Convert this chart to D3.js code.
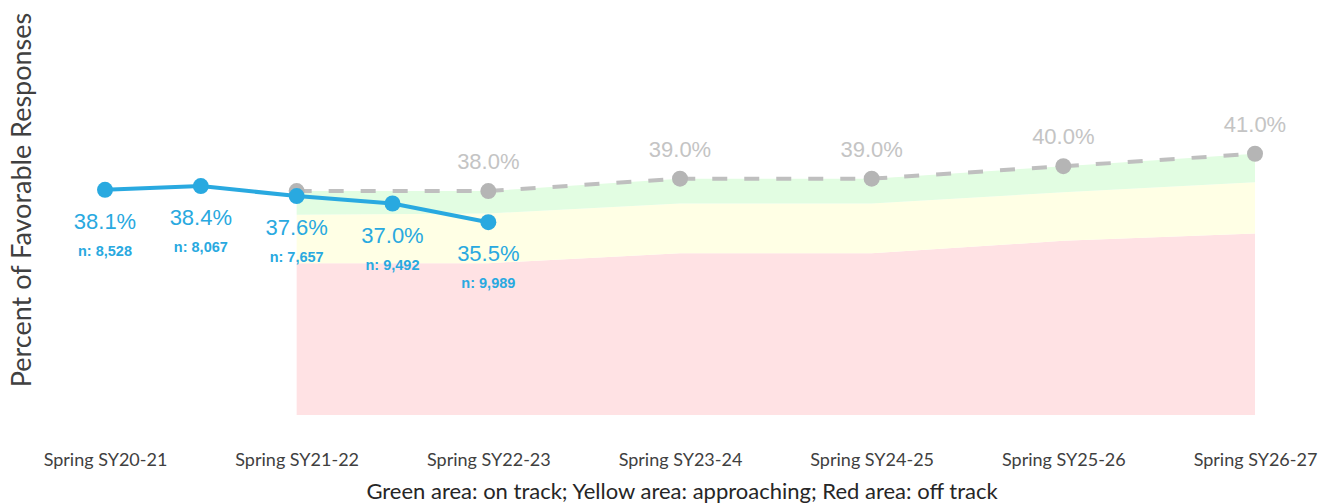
<!DOCTYPE html>
<html>
<head>
<meta charset="utf-8">
<script src="https://cdn.jsdelivr.net/npm/d3@7"></script>
<style>
  body { margin: 0; background: #fff; }
</style>
</head>
<body>
<div id="chart"></div>
<script>
// survey windows: only the spring ones carry a label on the axis
const tickLabels = ["Spring SY20-21", "", "Spring SY21-22", "", "Spring SY22-23", "", "Spring SY23-24", "", "Spring SY24-25", "", "Spring SY25-26", "", "Spring SY26-27"];

// observed percent favorable and number of responses
const actual = [38.1, 38.4, 37.6, 37.0, 35.5, null, null, null, null, null, null, null, null];
const responses = [8528, 8067, 7657, 9492, 9989, null, null, null, null, null, null, null, null];

// target line (gray dashed)
const target = [null, null, 38.0, null, 38.0, null, 39.0, null, 39.0, null, 40.0, null, 41.0];
// lower edge of green area (on track) and upper edge of red area (off track)
const onTrackMin = [null, null, 36.1, null, 36.2, null, 37.0, null, 37.0, null, 37.9, null, 38.7];
const offTrackMax = [null, null, 32.2, null, 32.2, null, 33.0, null, 33.0, null, 34.0, null, 34.6];

const yMin = 20;

const width = 1331, height = 504;

const svg = d3.select("#chart").append("svg")
  .attr("width", width)
  .attr("height", height)
  .style("font-family", "Lato, sans-serif");

const x = d3.scalePoint()
  .domain(d3.range(tickLabels.length))
  .range([105, 1255]);

const y = d3.scaleLinear()
  .domain([yMin, 45])
  .range([415, 104]);

// bands
const bandIdx = d3.range(tickLabels.length).filter(i => target[i] != null);

function band(lo, hi, color) {
  const area = d3.area()
    .x(i => x(i))
    .y0(i => y(lo(i)))
    .y1(i => y(hi(i)));
  svg.append("path")
    .attr("d", area(bandIdx))
    .attr("fill", color);
}
band(() => yMin, i => offTrackMax[i], "#ffe2e4");
band(i => offTrackMax[i], i => onTrackMin[i], "#ffffe5");
band(i => onTrackMin[i], i => target[i], "#e2fde2");

// x axis labels
const axis = svg.append("g")
  .attr("transform", "translate(0,450)")
  .call(d3.axisBottom(x).tickSize(0).tickFormat(i => tickLabels[i]));
axis.select(".domain").remove();
axis.selectAll("text")
  .attr("fill", "#404040")
  .style("font-family", "Lato, sans-serif")
  .style("font-size", "18px");

// target line
const targetLine = d3.line()
  .x(i => x(i))
  .y(i => y(target[i]));

svg.append("path")
  .attr("d", targetLine(bandIdx))
  .attr("fill", "none")
  .attr("stroke", "#bfbfbf")
  .attr("stroke-width", 4)
  .attr("stroke-dasharray", "15,17");

svg.selectAll(".tdot")
  .data(bandIdx)
  .enter().append("circle")
  .attr("class", "tdot")
  .attr("cx", i => x(i))
  .attr("cy", i => y(target[i]))
  .attr("r", 8)
  .attr("fill", "#b5b5b5");

svg.selectAll(".tlabel")
  .data(bandIdx.slice(1))
  .enter().append("text")
  .attr("class", "tlabel")
  .attr("x", i => x(i))
  .attr("y", i => y(target[i]) - 22)
  .attr("text-anchor", "middle")
  .attr("fill", "#c4c4c4")
  .style("font-family", "'Liberation Sans', Arial, sans-serif")
  .style("font-size", "22px")
  .text(i => target[i].toFixed(1) + "%");

// actual line
const actIdx = d3.range(tickLabels.length).filter(i => actual[i] != null);

const actualLine = d3.line()
  .x(i => x(i))
  .y(i => y(actual[i]));

svg.append("path")
  .attr("d", actualLine(actIdx))
  .attr("fill", "none")
  .attr("stroke", "#29a9e0")
  .attr("stroke-width", 4);

svg.selectAll(".adot")
  .data(actIdx)
  .enter().append("circle")
  .attr("class", "adot")
  .attr("cx", i => x(i))
  .attr("cy", i => y(actual[i]))
  .attr("r", 8)
  .attr("fill", "#29a9e0");

svg.selectAll(".alabel")
  .data(actIdx)
  .enter().append("text")
  .attr("class", "alabel")
  .attr("x", i => x(i))
  .attr("y", i => y(actual[i]) + 39)
  .attr("text-anchor", "middle")
  .attr("fill", "#29a9e0")
  .style("font-family", "'Liberation Sans', Arial, sans-serif")
  .style("font-size", "22px")
  .text(i => actual[i].toFixed(1) + "%");

svg.selectAll(".nlabel")
  .data(actIdx)
  .enter().append("text")
  .attr("class", "nlabel")
  .attr("x", i => x(i))
  .attr("y", i => y(actual[i]) + 66)
  .attr("text-anchor", "middle")
  .attr("fill", "#29a9e0")
  .style("font-family", "'Liberation Sans', Arial, sans-serif")
  .style("font-size", "14.5px")
  .style("font-weight", "bold")
  .text(i => "n: " + d3.format(",")(responses[i]));

// y title
svg.append("text")
  .attr("transform", "translate(31,200) rotate(-90)")
  .attr("text-anchor", "middle")
  .attr("fill", "#404040")
  .style("font-size", "27px")
  .text("Percent of Favorable Responses");

// footnote
svg.append("text")
  .attr("x", 682)
  .attr("y", 499)
  .attr("text-anchor", "middle")
  .attr("fill", "#262626")
  .style("font-size", "22px")
  .text("Green area: on track; Yellow area: approaching; Red area: off track");
</script>
</body>
</html>
